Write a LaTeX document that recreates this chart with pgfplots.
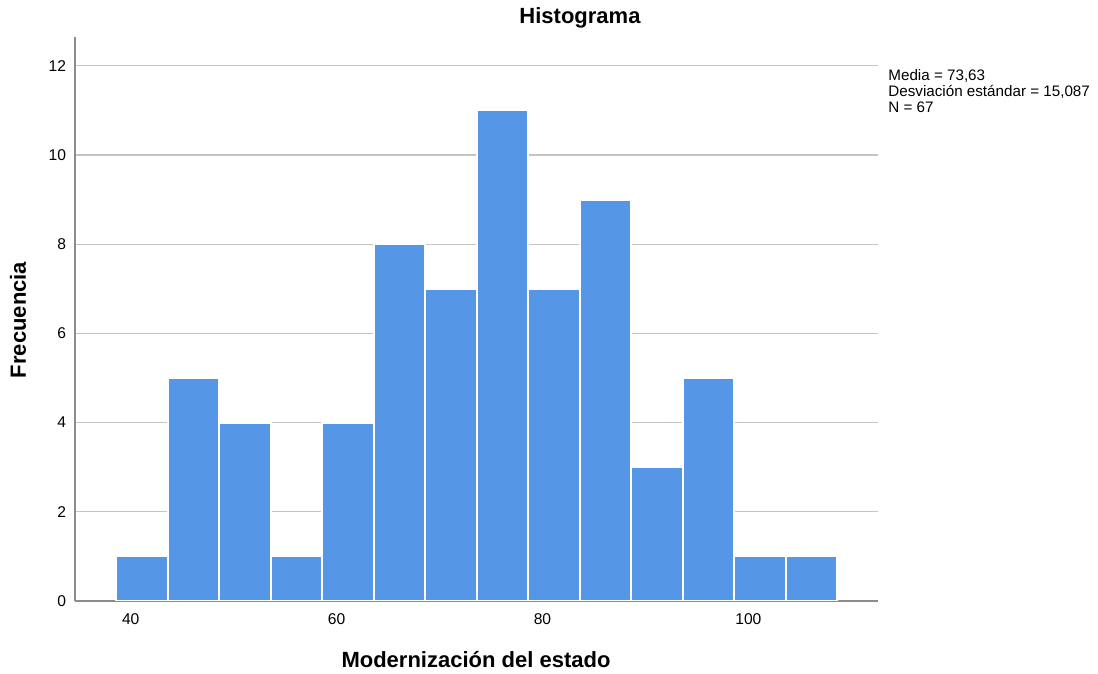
\documentclass[border=0pt]{standalone}
\usepackage{fontspec}
\setmainfont{Liberation Sans}
\usepackage{pgfplots}
\pgfplotsset{compat=1.18}
\definecolor{barblue}{HTML}{5596E6}
\definecolor{gridgray}{HTML}{C4C4C4}
\definecolor{axisgray}{HTML}{8C8C8C}
\begin{document}
\begin{tikzpicture}
\useasboundingbox (0,0) rectangle (549pt,337pt);
\begin{axis}[
  at={(37.5pt,36.5pt)}, anchor=south west,
  scale only axis, width=401.4pt, height=281.9pt,
  xmin=34.59, xmax=112.57, ymin=0, ymax=12.64,
  axis x line*=bottom, axis y line*=left,
  axis line style={axisgray, line width=0.9pt},
  xtick={40,60,80,100}, ytick={0,2,4,6,8,10,12},
  major tick length=0pt,
  ymajorgrids, grid style={gridgray, line width=0.6pt},
  tick label style={font=\fontsize{7.8}{9}\selectfont},
  /pgf/number format/assume math mode=true,
  yticklabel style={xshift=-1pt},
  xticklabel style={yshift=-3pt},
]
\addplot[ybar interval, fill=barblue, draw=white, line width=1pt] coordinates {
(38.62,1)(43.62,5)(48.62,4)(53.62,1)(58.62,4)(63.62,8)(68.62,7)(73.62,11)(78.62,7)(83.62,9)(88.62,3)(93.62,5)(98.62,1)(103.62,1)(108.62,1)};
\end{axis}
\node[font=\fontsize{11}{13}\bfseries\selectfont] at (290pt,328pt) {Histograma};
\node[font=\fontsize{11}{13}\bfseries\selectfont] at (238pt,7pt) {Modernización del estado};
\node[font=\fontsize{11}{13}\bfseries\selectfont, rotate=90] at (9pt,177pt) {Frecuencia};
\node[font=\fontsize{7.6}{8}\selectfont, anchor=base west, inner sep=0pt] at (444pt,296.5pt) {Media = 73,63};
\node[font=\fontsize{7.6}{8}\selectfont, anchor=base west, inner sep=0pt] at (444pt,288.5pt) {Desviación estándar = 15,087};
\node[font=\fontsize{7.6}{8}\selectfont, anchor=base west, inner sep=0pt] at (444pt,280.5pt) {N = 67};
\end{tikzpicture}
\end{document}
